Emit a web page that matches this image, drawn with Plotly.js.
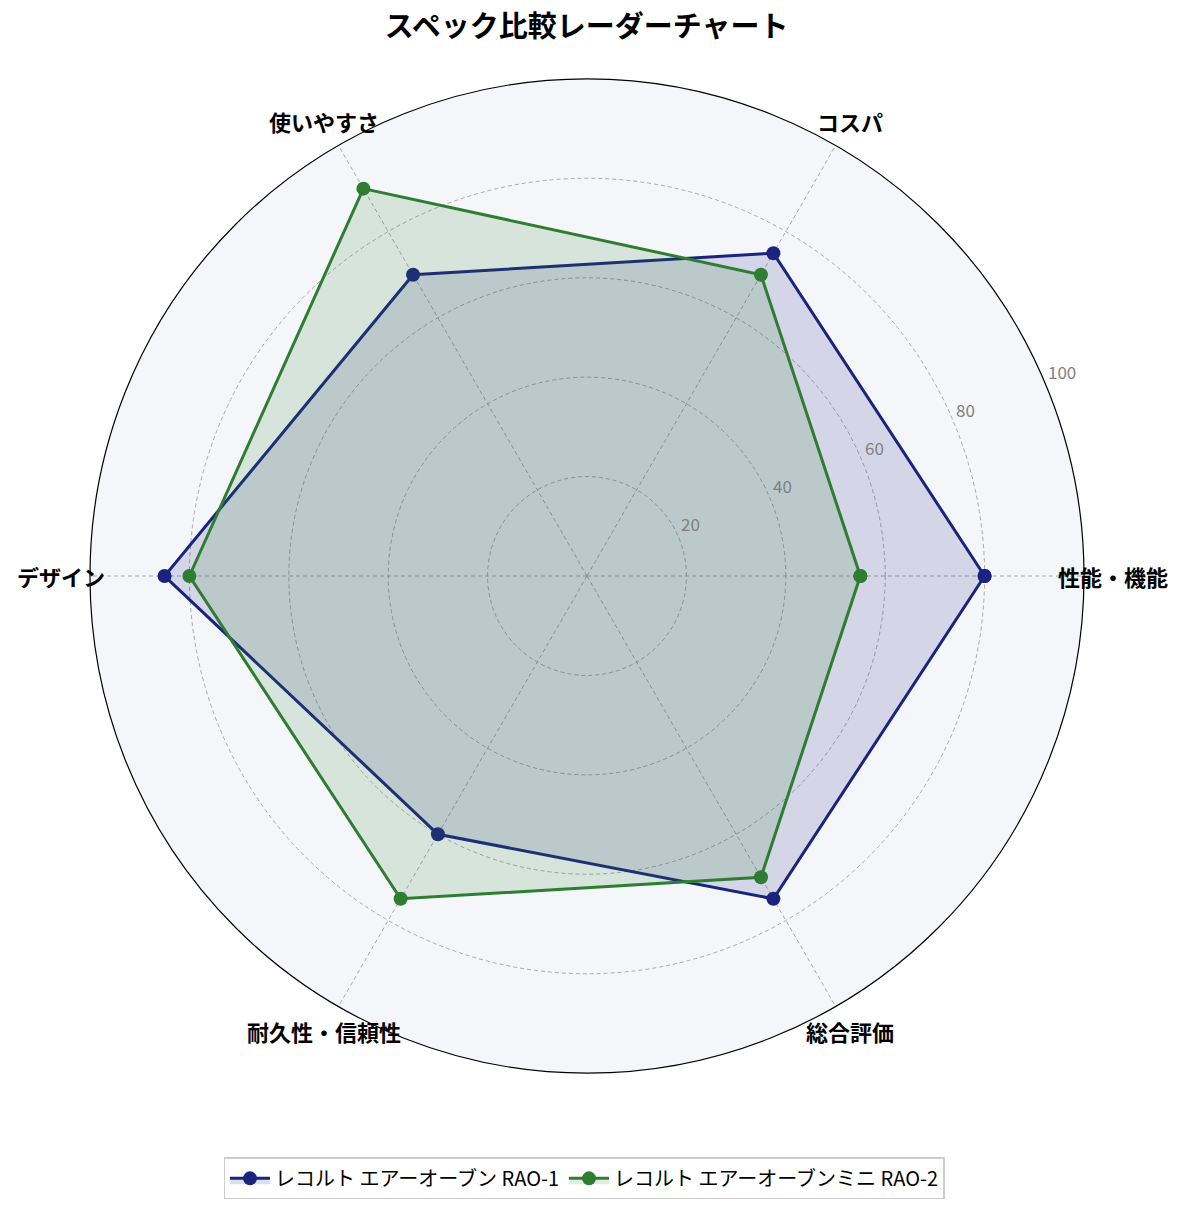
<!DOCTYPE html>
<html>
<head>
<meta charset="utf-8">
<script src="https://cdn.plot.ly/plotly-3.0.1.min.js"></script>
<style>
  html, body { margin: 0; padding: 0; background: #fff; }
  #chart { width: 1185px; height: 1211px; }
</style>
</head>
<body>
<div id="chart"></div>
<script>
const categories = ["性能・機能", "コスパ", "使いやすさ", "デザイン", "耐久性・信頼性", "総合評価"];
const nameA = "レコルト エアーオーブン RAO-1";
const nameB = "レコルト エアーオーブンミニ RAO-2";
const scoresA = [80, 75, 70, 85, 60, 75];
const scoresB = [55, 70, 90, 80, 75, 70];
const radialTicks = [20, 40, 60, 80, 100];
const rMax = 100;

const closeLoop = arr => arr.concat([arr[0]]);
const font = "'Noto Sans CJK JP', 'Noto Sans', sans-serif";

function series(name, values, color, fill) {
  return {
    type: "scatterpolar",
    r: closeLoop(values),
    theta: closeLoop(categories),
    name: name,
    mode: "lines+markers",
    line: { color: color, width: 3 },
    marker: { color: color, size: 14 },
    fill: "toself",
    fillcolor: fill,
  };
}

// category labels sit a bit outside the rim, like the original (centred on a circle)
const labelRadius = 0.529;
const labels = categories.map((c, i) => {
  const a = i * 2 * Math.PI / categories.length;
  return {
    text: "<b>" + c + "</b>", showarrow: false,
    xref: "paper", yref: "paper",
    x: 0.5 + labelRadius * Math.cos(a), y: 0.5 + labelRadius * Math.sin(a),
    xanchor: "center", yanchor: "middle",
    font: { family: font, size: 22, color: "#000" },
  };
});

// radial tick labels along the 22.5° ray, just above-right of it (matplotlib style)
const tickAngle = 22.5 * Math.PI / 180;
const tickLabels = radialTicks.map(v => ({
  text: String(v), showarrow: false,
  xref: "paper", yref: "paper",
  x: 0.5 + 0.5 * v / rMax * Math.cos(tickAngle),
  y: 0.5 + 0.5 * v / rMax * Math.sin(tickAngle),
  xanchor: "left", yanchor: "bottom",
  font: { family: font, size: 17, color: "#808080" },
}));

Plotly.newPlot("chart", [
  series(nameA, scoresA, "#1a237e", "rgba(26,35,126,0.15)"),
  series(nameB, scoresB, "#2e7d32", "rgba(46,125,50,0.15)"),
], {
  width: 1185, height: 1211,
  margin: { l: 90, r: 101, t: 79, b: 138 },
  paper_bgcolor: "#fff",
  font: { family: font, color: "#000" },
  title: {
    text: "<b>スペック比較レーダーチャート</b>",
    font: { family: font, size: 29, color: "#000" },
    x: 0.495, xanchor: "center", y: 0.978, yanchor: "middle",
  },
  annotations: labels.concat(tickLabels),
  showlegend: true,
  legend: {
    orientation: "h", x: 0.497, xanchor: "center", y: -0.106, yanchor: "middle",
    bordercolor: "#cccccc", borderwidth: 1.5, bgcolor: "#fff",
    itemwidth: 40,
    font: { family: font, size: 20, color: "#000" },
  },
  polar: {
    bgcolor: "#f5f6fa",
    radialaxis: {
      range: [0, rMax], tickvals: radialTicks, angle: 22.5,
      showticklabels: false, showline: false, ticks: "",
      gridcolor: "#a8a8a8", griddash: "4px,3px", gridwidth: 0.8,
    },
    angularaxis: {
      rotation: 0, direction: "counterclockwise",
      showline: true, linecolor: "#000", linewidth: 1.2,
      ticks: "", showticklabels: false,
      gridcolor: "#a8a8a8", griddash: "4px,3px", gridwidth: 0.8,
    },
  },
}, { displayModeBar: false });
</script>
</body>
</html>
